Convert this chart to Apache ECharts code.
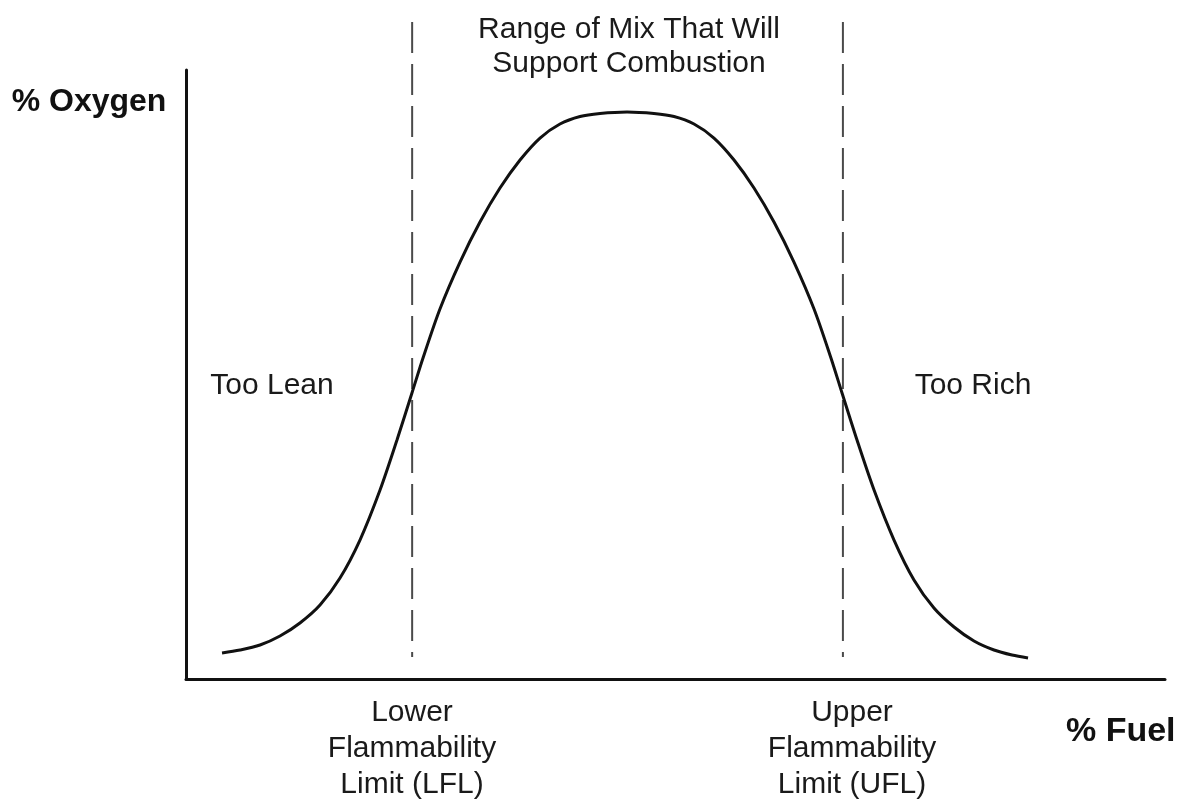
<!DOCTYPE html>
<html>
<head>
<meta charset="utf-8">
<title>Flammability range</title>
<script src="https://cdn.jsdelivr.net/npm/echarts@6/dist/echarts.min.js"></script>
<style>
  html, body { margin: 0; padding: 0; background: #fff; }
  #chart { width: 1182px; height: 805px; }
</style>
</head>
<body>
<div id="chart"></div>
<script>
  // curve (abstract units, 0-100 on both axes)
  const fuel = [3.68, 5.52, 7.56, 9.60, 11.64, 13.69, 15.73, 17.77, 19.82, 21.55, 23.08, 24.21, 25.94, 27.99,
    30.03, 32.07, 34.12, 36.16, 38.20, 40.25, 42.29, 45.05,
    47.80, 49.85, 51.89, 53.93, 55.98, 58.02, 60.06, 62.10, 64.15, 65.88, 67.01, 68.54, 70.28, 72.32,
    74.36, 76.40, 78.45, 80.49, 82.53, 84.37, 86.01]
  const oxygen = [4.27, 4.76, 5.58, 7.06, 9.20, 12.15, 16.58, 22.82, 31.03, 39.24, 46.96, 52.71, 60.76, 68.47,
    75.04, 80.62, 85.22, 88.83, 91.13, 92.36, 92.85, 93.10,
    92.85, 92.36, 91.13, 88.83, 85.22, 80.62, 75.04, 68.47, 60.76, 52.71, 46.96, 39.24, 31.03, 22.82,
    16.26, 11.66, 8.54, 6.24, 4.76, 3.94, 3.45]

  // flammability limits and the extent of the dashed guides
  const limits = [23.1, 67.1]
  const guideTop = 107.9
  const guideBottom = 3.6

  const fontReg = 'Liberation Sans, Arial, sans-serif'

  const chart = echarts.init(document.getElementById('chart'))

  const curve = fuel.map((x, i) => [x, oxygen[i]])

  const guides = limits.map(x => ({
    type: 'line',
    data: [[x, guideTop], [x, guideBottom]],
    symbol: 'none',
    clip: false,
    silent: true,
    lineStyle: { color: '#4a4a4a', width: 2, type: [31, 11] },
    z: 1
  }))

  function label (text, x, y, opts) {
    return {
      type: 'text',
      x: x,
      y: y,
      style: Object.assign({
        text: text,
        font: '30px ' + fontReg,
        fill: '#1a1a1a',
        align: 'center',
        verticalAlign: 'middle',
        lineHeight: 35
      }, opts || {})
    }
  }

  chart.setOption({
    animation: false,
    grid: { left: 186, right: 17, top: 70, bottom: 126 },
    xAxis: {
      type: 'value',
      min: 0,
      max: 100,
      axisLine: { show: true, lineStyle: { color: '#111', width: 3 } },
      axisTick: { show: false },
      axisLabel: { show: false },
      splitLine: { show: false }
    },
    yAxis: {
      type: 'value',
      min: 0,
      max: 100,
      axisLine: { show: true, lineStyle: { color: '#111', width: 3 } },
      axisTick: { show: false },
      axisLabel: { show: false },
      splitLine: { show: false }
    },
    series: [{
      type: 'line',
      data: curve,
      smooth: 0.3,
      symbol: 'none',
      lineStyle: { color: '#111', width: 3 },
      z: 3
    }].concat(guides),
    graphic: [
      label('% Oxygen', 89, 102, { font: 'bold 32px ' + fontReg, fill: '#111' }),
      label('% Fuel', 1066, 732, { font: 'bold 34px ' + fontReg, fill: '#111', align: 'left' }),
      label('Range of Mix That Will\nSupport Combustion', 629, 47, { lineHeight: 34 }),
      label('Too Lean', 272, 386),
      label('Too Rich', 973, 386),
      label('Lower\nFlammability\nLimit (LFL)', 412, 749, { lineHeight: 36 }),
      label('Upper\nFlammability\nLimit (UFL)', 852, 749, { lineHeight: 36 })
    ]
  })
</script>
</body>
</html>
